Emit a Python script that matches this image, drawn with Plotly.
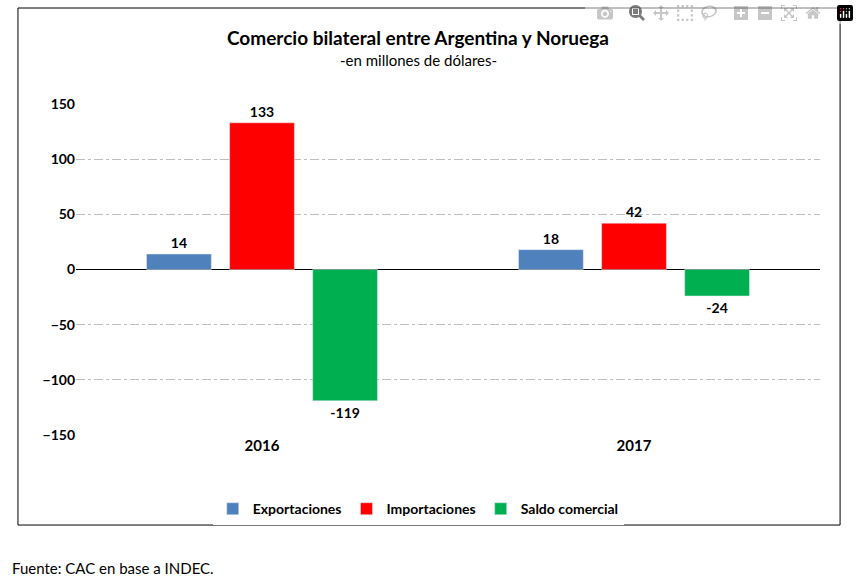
import plotly.graph_objects as go

years = ["2016", "2017"]
exportaciones = [14, 18]
importaciones = [133, 42]
saldo = [-119, -24]

FONT = "Lato"

fig = go.Figure()
series = [("<b>Exportaciones</b>", exportaciones, "#4F81BD"),
          ("<b>Importaciones</b>", importaciones, "#FF0000"),
          ("<b>Saldo comercial</b>", saldo, "#00B050")]
for name, vals, col in series:
    fig.add_trace(go.Bar(
        x=years, y=vals, name=name, marker_color=col,
        text=["<b>%d</b>" % v for v in vals], textposition="outside",
        textfont=dict(size=14, color="black"), cliponaxis=False))

fig.update_layout(
    width=859, height=587,
    margin=dict(l=76, r=39, t=104, b=152),
    paper_bgcolor="white", plot_bgcolor="white",
    font=dict(family=FONT, size=14, color="black"),
    barmode="group", bargap=0.33, bargroupgap=0.22,
    showlegend=True,
    legend=dict(orientation="h", x=0.46, xanchor="center", y=-0.224, yanchor="middle",
                font=dict(size=14), traceorder="normal"),
    xaxis=dict(showline=False, ticks="", tickfont=dict(size=15),
               tickprefix="<b>", ticksuffix="</b>"),
    yaxis=dict(range=[-150, 150], dtick=50, showgrid=True, gridcolor="#bfbfbf",
               griddash="dashdot", zeroline=True, zerolinecolor="black", zerolinewidth=1,
               tickprefix="<b>", ticksuffix="</b>", tickfont=dict(size=14)),
)

fig.add_shape(type="rect", xref="paper", yref="paper",
              x0=-0.078, x1=1.027, y0=-0.272, y1=1.29,
              line=dict(color="black", width=1))
fig.add_annotation(text="<b>Comercio bilateral entre Argentina y Noruega</b>",
                   xref="paper", yref="paper", x=0.46, y=1.202, yanchor="middle",
                   showarrow=False, font=dict(size=19))
fig.add_annotation(text="-en millones de dólares-",
                   xref="paper", yref="paper", x=0.46, y=1.133, yanchor="middle",
                   showarrow=False, font=dict(size=15))
fig.add_annotation(text="Fuente: CAC en base a INDEC.",
                   xref="paper", yref="paper", x=-0.089, y=-0.402, xanchor="left",
                   yanchor="middle", showarrow=False, font=dict(size=15))

fig.write_html("out.html", post_script="document.body.style.margin='0';")
